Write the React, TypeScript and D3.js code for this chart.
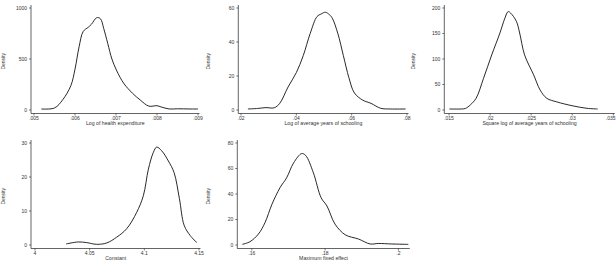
import React from "react";
import * as d3 from "d3";

// Kernel density estimates of the posterior draws
const healthX = [.00518, .0055, .0057, .0059, .0060, .0061, .0062, .00632, .0064, .00653, .00662, .0067, .0068, .0069, .0070, .0071, .0072, .0074, .0076, .0078, .0080, .0081, .0083, .0085, .0088, .0090];
const healthY = [10, 20, 100, 240, 400, 620, 770, 810, 840, 905, 895, 800, 650, 500, 400, 320, 255, 165, 95, 38, 42, 30, 10, 12, 10, 10];

const schoolX = [.0225, .026, .029, .032, .034, .037, .040, .0425, .045, .0475, .049, .0505, .052, .053, .055, .057, .059, .061, .064, .067, .0705, .074, .0795];
const schoolY = [0.6, 0.9, 1.4, 1.3, 3.9, 13.5, 22, 32, 45, 55, 56.5, 57.5, 56, 54, 45, 32, 19, 10, 5.8, 3.9, 1.0, 0.6, 0.6];

const sqSchoolX = [.01504, .0165, .0170, .0176, .0183, .0192, .0202, .0212, .0218, .0222, .0225, .0232, .0236, .0242, .0253, .0261, .0269, .0281, .0301, .0318, .0331];
const sqSchoolY = [2, 2, 3, 10, 23, 62, 108, 151, 180, 193, 190, 174, 151, 108, 69, 39, 23, 16, 8, 3.3, 2];

const constX = [4.0284, 4.0396, 4.0473, 4.0564, 4.0656, 4.0747, 4.0839, 4.093, 4.0991, 4.1037, 4.1082, 4.1113, 4.1159, 4.122, 4.1272, 4.1321, 4.1364, 4.1419, 4.148];
const constY = [0.3, 0.9, 0.7, 0.2, 0.6, 2.3, 4.8, 9.6, 14.5, 22.3, 27.2, 28.8, 27.7, 24.7, 21.3, 13.6, 5.8, 2.8, 0.7];

const maxFeX = [.1574, .1595, .1618, .1636, .1655, .1677, .1695, .1714, .1736, .1747, .1768, .1789, .1805, .1827, .1855, .1891, .1923, .1945, .1982, .2027];
const maxFeY = [0.5, 2.6, 8.6, 17.6, 32, 45, 52.7, 64.4, 71.7, 70.2, 56.6, 37.1, 30.6, 16.4, 8, 4.7, 0.8, 1.2, 0.8, 0.5];

// Axis ticks and titles
const healthXTicks = [".005", ".006", ".007", ".008", ".009"];
const healthYTicks = ["0", "500", "1000"];
const schoolXTicks = [".02", ".04", ".06", ".08"];
const schoolYTicks = ["0", "20", "40", "60"];
const sqSchoolXTicks = [".015", ".02", ".025", ".03", ".035"];
const sqSchoolYTicks = ["0", "50", "100", "150", "200"];
const constXTicks = ["4", "4.05", "4.1", "4.15"];
const constYTicks = ["0", "10", "20", "30"];
const maxFeXTicks = [".16", ".18", ".2"];
const maxFeYTicks = ["0", "20", "40", "60", "80"];

const titles = [
  "Log of health expenditure",
  "Log of average years of schooling",
  "Square log of average years of schooling",
  "Constant",
  "Maximum fixed effect",
];

type Panel = {
  ox: number; oy: number;
  axisX: number; left: number; right: number;
  xDomain: [number, number];
  xs: number[]; ys: number[];
  xTicks: string[]; yTicks: string[];
  title: string;
};

const panels: Panel[] = [
  { ox: 0, oy: 0, axisX: 31, left: 34, right: 198, xDomain: [.005, .009], xs: healthX, ys: healthY, xTicks: healthXTicks, yTicks: healthYTicks, title: titles[0] },
  { ox: 205, oy: 0, axisX: 33.3, left: 36, right: 202, xDomain: [.02, .08], xs: schoolX, ys: schoolY, xTicks: schoolXTicks, yTicks: schoolYTicks, title: titles[1] },
  { ox: 410, oy: 0, axisX: 34.3, left: 39, right: 203.3, xDomain: [.015, .035], xs: sqSchoolX, ys: sqSchoolY, xTicks: sqSchoolXTicks, yTicks: sqSchoolYTicks, title: titles[2] },
  { ox: 0, oy: 135, axisX: 31, left: 35, right: 199, xDomain: [4, 4.15], xs: constX, ys: constY, xTicks: constXTicks, yTicks: constYTicks, title: titles[3] },
  { ox: 205, oy: 135, axisX: 32.3, left: 37.3, right: 203.3, xDomain: [.1574, .2027], xs: maxFeX, ys: maxFeY, xTicks: maxFeXTicks, yTicks: maxFeYTicks, title: titles[4] },
];

const FONT = "'Liberation Sans', Arial, sans-serif";
const TEXT = "#333";
const AXIS_TOP = 5;
const AXIS_Y = 113.5;
const WIDTH = 616;
const HEIGHT = 273;

function DensityPanel({ p }: { p: Panel }) {
  const x = d3.scaleLinear().domain(p.xDomain).range([p.left, p.right]);
  const yVals = p.yTicks.map(Number);
  const y = d3.scaleLinear().domain([0, d3.max(yVals) as number]).range([110, 8]);
  const line = d3
    .line<number>()
    .x((_, i) => x(p.xs[i]))
    .y((d) => y(d))
    .curve(d3.curveCatmullRom.alpha(0.5));
  const xRight = Math.max(p.right, x(+p.xTicks[p.xTicks.length - 1])) + 1.5;
  const cx = (p.axisX + xRight) / 2;
  return (
    <g transform={`translate(${p.ox},${p.oy})`}>
      {/* y axis */}
      <line x1={p.axisX} x2={p.axisX} y1={AXIS_TOP} y2={AXIS_Y} stroke="#222" strokeWidth={0.7} />
      {p.yTicks.map((t) => (
        <g key={t}>
          <line x1={p.axisX - 2} x2={p.axisX} y1={y(+t)} y2={y(+t)} stroke="#222" strokeWidth={0.6} />
          <text x={p.axisX - 4} y={y(+t)} dy="0.35em" textAnchor="end" fontSize={5} fontFamily={FONT} fill={TEXT}>
            {t}
          </text>
        </g>
      ))}
      <text
        transform={`translate(4.5,${(AXIS_TOP + AXIS_Y) / 2 + 2}) rotate(-90)`}
        textAnchor="middle"
        fontSize={5}
        fontFamily={FONT}
        fill={TEXT}
      >
        Density
      </text>
      {/* x axis */}
      <line x1={p.axisX} x2={xRight} y1={AXIS_Y} y2={AXIS_Y} stroke="#222" strokeWidth={0.7} />
      {p.xTicks.map((t) => {
        const tx = x(+t);
        // keep labels at the page edge inside the drawing
        const atEdge = p.ox + tx + 5 > WIDTH;
        return (
          <g key={t}>
            <line x1={tx} x2={tx} y1={AXIS_Y} y2={AXIS_Y + 2} stroke="#222" strokeWidth={0.6} />
            <text
              x={atEdge ? WIDTH - p.ox - 0.5 : tx}
              y={AXIS_Y + 4.5}
              dy="0.35em"
              textAnchor={atEdge ? "end" : "middle"}
              fontSize={5}
              fontFamily={FONT}
              fill={TEXT}
            >
              {t}
            </text>
          </g>
        );
      })}
      <text x={cx} y={AXIS_Y + 10} dy="0.35em" textAnchor="middle" fontSize={5.2} fontFamily={FONT} fill={TEXT}>
        {p.title}
      </text>
      {/* density curve */}
      <path d={line(p.ys) ?? ""} fill="none" stroke="#111" strokeWidth={0.9} />
    </g>
  );
}

export default function App() {
  return (
    <svg
      width={WIDTH}
      height={HEIGHT}
      style={{ position: "absolute", left: 0, top: 0, background: "#fff" }}
    >
      <rect width={WIDTH} height={HEIGHT} fill="#fff" />
      {panels.map((p, i) => (
        <DensityPanel key={i} p={p} />
      ))}
    </svg>
  );
}
